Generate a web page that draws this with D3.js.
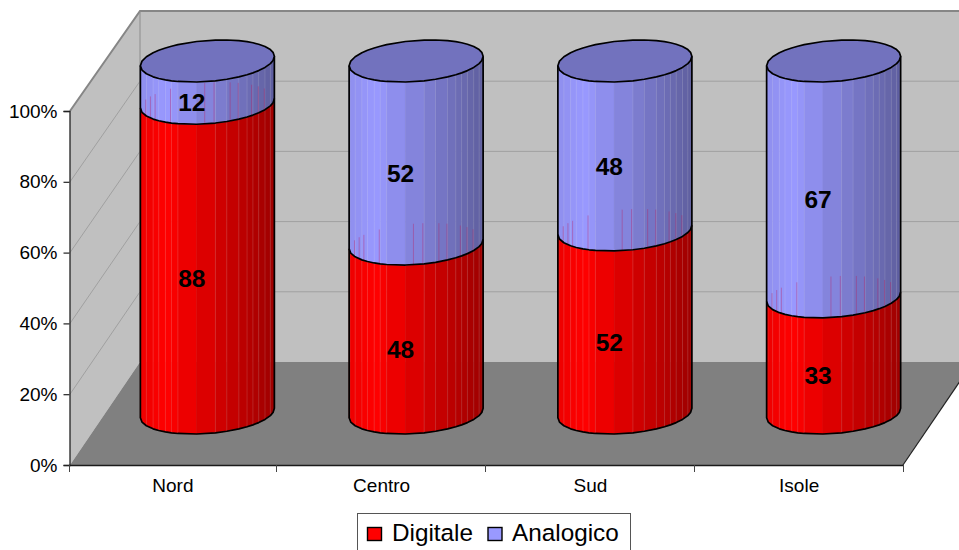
<!DOCTYPE html>
<html><head><meta charset="utf-8">
<script src="https://cdn.jsdelivr.net/npm/d3@7"></script>
<style>
html,body{margin:0;padding:0;background:#fff;overflow:hidden}
svg{display:block}
text{font-family:"Liberation Sans",Arial,sans-serif;fill:#000}
</style></head><body>
<script>
const categories = ["Nord","Centro","Sud","Isole"];
const digitale = [88,48,52,33];
const analogico = [12,52,48,67];
const seriesNames = ["Digitale","Analogico"];
const seriesColors = ["#ff0000","#9999ff"];
const capColor = "#7272be";
const valueTicks = [0,20,40,60,80,100];
const facetStops = [0,.012,.045,.095,.137,.187,.232,.28,.42,.56,.645,.735,.796,.84,.883,.93,.97,.99,1];
const rimStops = [.04,.075,.11,.225,.48,.55,.67,.73,.83,.88,.925];
const hairStops = [.045,.095,.137,.187,.232,.28,.56,.645,.735,.796,.84,.883,.93,.97];

const W=959,H=550;
const svg=d3.select("body").append("svg").attr("width",W).attr("height",H);
const depthX=70, depthY=-103;
const yFront=d3.scaleLinear().domain([0,100]).range([465,111]);
const yBack=v=>yFront(v)+depthY+ (yFront(v)-465)*(-0.0085);
const x=d3.scaleBand().domain(categories).range([68,903]);
const yCyl=d3.scaleLinear().domain([0,100]).range([413,61]);
const rx=67, ry=20.5, tilt=-0.07;
const line=d3.line();

const x0=70,x1=903;
svg.append("polygon").attr("points",[[x0,yFront(100)],[x0+depthX,yBack(100)],[x0+depthX,yBack(0)],[x0,yFront(0)]].join(" ")).attr("fill","#c0c0c0");
svg.append("polygon").attr("points",[[x0+depthX,yBack(100)],[W+2,yBack(100)],[W+2,yBack(0)],[x0+depthX,yBack(0)]].join(" ")).attr("fill","#c0c0c0");
valueTicks.slice(1,-1).forEach(v=>{
  svg.append("path").attr("d",line([[x0,yFront(v)],[x0+depthX,yBack(v)],[W+2,yBack(v)]]))
    .attr("fill","none").attr("stroke","#a0a0a0").attr("stroke-width",1);
});
svg.append("polygon").attr("points",[[x0,yFront(0)],[x1,yFront(0)],[x1+depthX,yBack(0)],[x0+depthX,yBack(0)]].join(" ")).attr("fill","#808080");
svg.append("path").attr("d",line([[x0,yFront(100)],[x0+depthX,yBack(100)],[W+2,yBack(100)]])).attr("fill","none").attr("stroke","#868686").attr("stroke-width",2);
svg.append("path").attr("d",line([[x0+depthX,yBack(100)],[x0+depthX,yBack(0)]])).attr("stroke","#8c8c8c").attr("stroke-width",1);
svg.append("path").attr("d",line([[x1,yFront(0)],[x1+depthX,yBack(0)]])).attr("stroke","#222").attr("stroke-width",1.2);

const shade=f=>f<.2?.93+(.07*f/.2):1-(.38*(f-.2)/.8);
const col=(c,f)=>{const r=d3.rgb(c),s=shade(f);return d3.rgb(r.r*s,r.g*s,r.b*s).formatHex();};
const pFront=(cx,cy,f)=>{const c=2*f-1,s=Math.sqrt(Math.max(0,1-c*c));return [cx+rx*c,cy+ry*s+tilt*rx*c];};
const pBack=(cx,cy,f)=>{const c=2*f-1,s=Math.sqrt(Math.max(0,1-c*c));return [cx+rx*c,cy-ry*s+tilt*rx*c];};
const arcF=(cx,cy)=>facetStops.map(f=>pFront(cx,cy,f));
const arcB=(cx,cy)=>facetStops.map(f=>pBack(cx,cy,f));

function segment(g,cx,a,b,color){
  const ca=yCyl(a),cb=yCyl(b);
  facetStops.slice(0,-1).forEach((f,i)=>{
    const f2=facetStops[i+1];
    g.append("polygon")
      .attr("points",[pFront(cx,ca,f),pFront(cx,ca,f2),pFront(cx,cb,f2),pFront(cx,cb,f)].join(" "))
      .attr("fill",col(color,(f+f2)/2)).attr("stroke",col(color,(f+f2)/2)).attr("stroke-width",.5);
  });
  hairStops.forEach(f=>{
    g.append("path").attr("d",line([pFront(cx,ca,f),pFront(cx,cb,f)]))
      .attr("stroke","#fff").attr("stroke-opacity",.13).attr("stroke-width",1);
  });
}
categories.forEach((cat,i)=>{
  const cx=x(cat)+x.bandwidth()/2+35;
  const g=svg.append("g");
  const d=digitale[i], tot=d+analogico[i];
  segment(g,cx,0,d,seriesColors[0]);
  segment(g,cx,d,tot,seriesColors[1]);
  rimStops.forEach(f=>{
    g.append("path").attr("d",line([pBack(cx,yCyl(d),f),pFront(cx,yCyl(d),f)]))
      .attr("stroke","#c0185a").attr("stroke-opacity",.36).attr("stroke-width",1);
  });
  const stroke=pts=>g.append("path").attr("d",line(pts))
    .attr("fill","none").attr("stroke","#000").attr("stroke-width",1.7).attr("stroke-linejoin","round");
  stroke([pFront(cx,yCyl(tot),0),...arcF(cx,yCyl(0)),pFront(cx,yCyl(tot),1)]);
  stroke(arcF(cx,yCyl(d)));
  const capPts=[...arcF(cx,yCyl(tot)),...arcB(cx,yCyl(tot)).reverse().slice(1,-1)];
  g.append("path").attr("d",line(capPts)+"Z").attr("fill",capColor).attr("stroke","#000").attr("stroke-width",1.7).attr("stroke-linejoin","round");
  [[0,d,d],[d,tot,analogico[i]]].forEach(([a,b,val])=>{
    g.append("text").attr("x",cx-15.5).attr("y",(yCyl(a)+yCyl(b))/2+20.5)
      .attr("dy","0.36em").attr("text-anchor","middle").attr("font-weight","bold").attr("font-size",24.5).text(val);
  });
});

const yAxis=d3.axisLeft(yFront).tickValues(valueTicks).tickFormat(d=>d+"%").tickSize(6).tickPadding(6);
const ga=svg.append("g").attr("transform","translate(69.5,0)").call(yAxis);
ga.select(".domain").attr("stroke","#222").attr("stroke-width",1.3);
ga.selectAll(".tick line").attr("stroke","#222").attr("stroke-width",1.2);
ga.selectAll("text").attr("font-size",19).attr("font-family",null).attr("fill","#000");

const xAxis=d3.axisBottom(x).tickSize(0).tickPadding(14);
const gb=svg.append("g").attr("transform","translate(0.5,465)").call(xAxis);
gb.select(".domain").remove();
gb.selectAll("text").attr("font-size",19).attr("font-family",null).attr("fill","#000");
svg.append("path").attr("d",line([[69,465.5],[x1,465.5]])).attr("stroke","#1a1a1a").attr("stroke-width",1.6);
[x.range()[0]+1,...categories.map(c=>x(c)+x.bandwidth())].forEach(v=>{
  svg.append("path").attr("d",line([[Math.round(v-0.5)+.5,465],[Math.round(v-0.5)+.5,472]])).attr("stroke","#444").attr("stroke-width",1);
});

const lg=svg.append("g");
lg.append("rect").attr("x",357.5).attr("y",513.5).attr("width",273).attr("height",45).attr("fill","#fff").attr("stroke","#555").attr("stroke-width",1);
const legendX=[[367.5,392],[488,512]];
seriesNames.forEach((n,i)=>{
  lg.append("rect").attr("x",legendX[i][0]).attr("y",527.5).attr("width",14).attr("height",13).attr("fill",seriesColors[i]).attr("stroke","#000").attr("stroke-width",1.4);
  lg.append("text").attr("x",legendX[i][1]).attr("y",541).attr("font-size",24.3).text(n);
});
</script>
</body></html>
